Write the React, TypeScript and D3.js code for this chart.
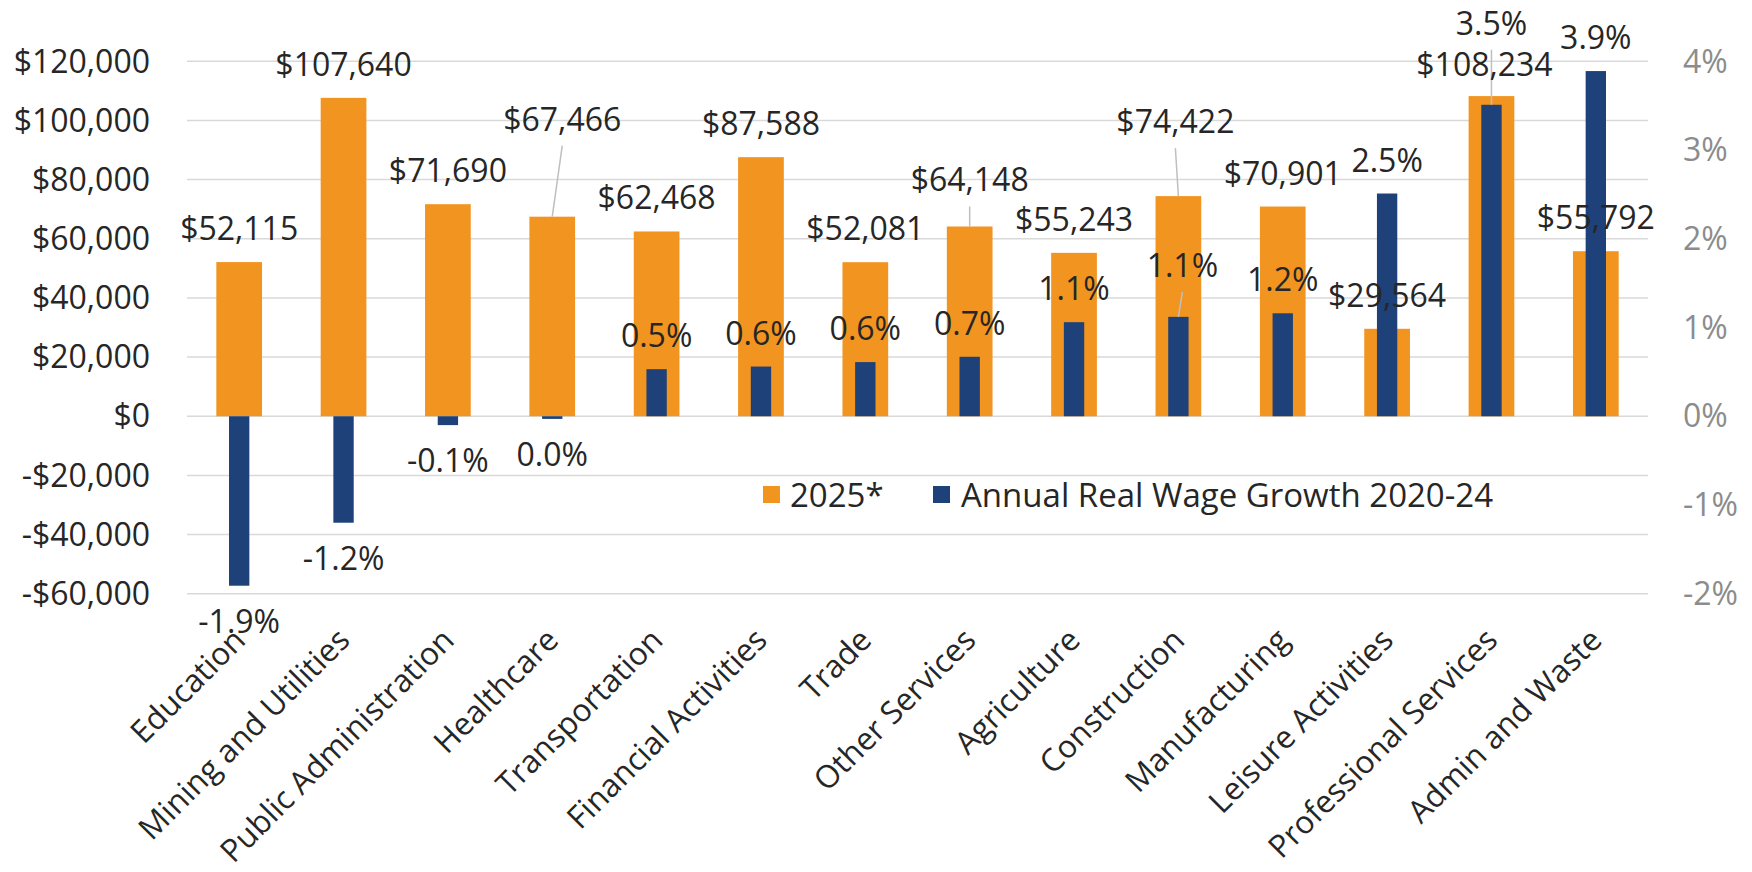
import React from "react";
import * as d3 from "d3";

const categories = [
    "Education",
    "Mining and Utilities",
    "Public Administration",
    "Healthcare",
    "Transportation",
    "Financial Activities",
    "Trade",
    "Other Services",
    "Agriculture",
    "Construction",
    "Manufacturing",
    "Leisure Activities",
    "Professional Services",
    "Admin and Waste",
];

// average wage, 2025*
const wages2025 = [
    52115, 107640, 71690, 67466, 62468, 87588, 52081, 64148, 55243, 74422, 70901,
    29564, 108234, 55792,
];

// annual real wage growth 2020-24, %
const wageGrowth = [
    -1.91, -1.2, -0.1, -0.03, 0.53, 0.56, 0.61, 0.67, 1.06, 1.12, 1.16, 2.51, 3.51,
    3.89,
];

const leftTicks = [-60000, -40000, -20000, 0, 20000, 40000, 60000, 80000, 100000, 120000];
const rightTicks = [-2, -1, 0, 1, 2, 3, 4];

const seriesNames = ["2025*", "Annual Real Wage Growth 2020-24"];

// labels that were dragged away from the bar end: [dx, dy, leader line]
const wageLabelMoves: Record<number, [number, number, boolean]> = {
    3: [10, -64, true],
    7: [0, -13, true],
    9: [-3, -41, true],
    12: [-7, 2, false],
};
const growthLabelMoves: Record<number, [number, number, boolean]> = {
    9: [4, -18, true],
    12: [0, -48, true],
};

const W = 1752;
const H = 872;
const ORANGE = "#F29420";
const BLUE = "#1D4178";
const TEXT = "#262626";
const FONT = "'Open Sans', sans-serif";
const FS = 32;

const fmtMoney = (v: number) => (v < 0 ? "-$" : "$") + d3.format(",")(Math.abs(v));
const fmtPct = (v: number) => {
    const r = Math.round(v * 10) / 10;
    return (r === 0 ? "0.0" : r.toFixed(1)) + "%";
};

const App = () => {
    const yLeft = d3.scaleLinear().domain([-60000, 120000]).range([593.7, 61.3]);
    const yRight = d3.scaleLinear().domain([-2, 4]).range([593.7, 61.3]);
    const x = d3.scaleBand<string>().domain(categories).range([187, 1648]).padding(0);
    const bw = x.bandwidth();
    const orangeW = bw * 0.438;
    const blueW = bw * 0.195;
    const cx = (i: number) => (x(categories[i]) as number) + bw / 2;

    const labelPos = (v: number, y: number) => (v >= 0 ? y - 22 : y + 47);

    const wageLabels = wages2025.map((v, i) => {
        const m = wageLabelMoves[i] || [0, 0, false];
        const barY = yLeft(v);
        return {
            text: fmtMoney(v),
            x: cx(i) + m[0],
            y: labelPos(v, barY) + m[1],
            leader: m[2],
            barX: cx(i),
            barY,
        };
    });
    const growthLabels = wageGrowth.map((v, i) => {
        const m = growthLabelMoves[i] || [0, 0, false];
        const barY = yRight(v);
        return {
            text: fmtPct(v),
            x: cx(i) + m[0],
            y: labelPos(v, barY) + m[1],
            leader: m[2],
            barX: cx(i),
            barY,
        };
    });
    const allLabels = [...wageLabels, ...growthLabels];

    return (
        <div style={{ position: "absolute", left: 0, top: 0, background: "#fff" }}>
            <svg width={W} height={H} style={{ display: "block", fontFamily: FONT }}>
                <rect width={W} height={H} fill="#fff" />
                {leftTicks.map((t) => (
                    <line
                        key={"g" + t}
                        x1={187}
                        x2={1648}
                        y1={yLeft(t)}
                        y2={yLeft(t)}
                        stroke="#d9d9d9"
                        strokeWidth={1.5}
                    />
                ))}
                {leftTicks.map((t) => (
                    <text
                        key={"l" + t}
                        x={150}
                        y={yLeft(t)}
                        dy="0.35em"
                        textAnchor="end"
                        fontSize={FS}
                        fill={TEXT}
                    >
                        {fmtMoney(t)}
                    </text>
                ))}
                {rightTicks.map((t) => (
                    <text
                        key={"r" + t}
                        x={1683}
                        y={yRight(t)}
                        dy="0.35em"
                        textAnchor="start"
                        fontSize={FS}
                        fill="#8c8c8c"
                    >
                        {t + "%"}
                    </text>
                ))}
                {wages2025.map((v, i) => (
                    <rect
                        key={"o" + i}
                        x={cx(i) - orangeW / 2}
                        y={Math.min(yLeft(v), yLeft(0))}
                        width={orangeW}
                        height={Math.abs(yLeft(v) - yLeft(0))}
                        fill={ORANGE}
                    />
                ))}
                {wageGrowth.map((v, i) => (
                    <rect
                        key={"b" + i}
                        x={cx(i) - blueW / 2}
                        y={Math.min(yRight(v), yRight(0))}
                        width={blueW}
                        height={Math.abs(yRight(v) - yRight(0))}
                        fill={BLUE}
                    />
                ))}
                {allLabels
                    .filter((d) => d.leader)
                    .map((d, i) => (
                        <line
                            key={"ld" + i}
                            x1={d.barX}
                            y1={d.barY}
                            x2={d.x}
                            y2={d.y + 15}
                            stroke="#bfbfbf"
                            strokeWidth={1.5}
                        />
                    ))}
                {allLabels.map((d, i) => (
                    <text
                        key={"dl" + i}
                        x={d.x}
                        y={d.y}
                        textAnchor="middle"
                        fontSize={FS}
                        fill={TEXT}
                    >
                        {d.text}
                    </text>
                ))}
                {categories.map((c, i) => (
                    <text
                        key={"c" + i}
                        transform={`translate(${cx(i) + 8},642) rotate(-45)`}
                        textAnchor="end"
                        fontSize={31.5}
                        fill={TEXT}
                    >
                        {c}
                    </text>
                ))}
                <g transform="translate(763,495)">
                    <rect x={0} y={-9} width={17} height={17} fill={ORANGE} />
                    <text x={27} dy="0.35em" fontSize={33} fill={TEXT}>
                        {seriesNames[0]}
                    </text>
                    <rect x={170} y={-9} width={17} height={17} fill={BLUE} />
                    <text x={198} dy="0.35em" fontSize={33} fill={TEXT}>
                        {seriesNames[1]}
                    </text>
                </g>
            </svg>
        </div>
    );
};

export default App;
